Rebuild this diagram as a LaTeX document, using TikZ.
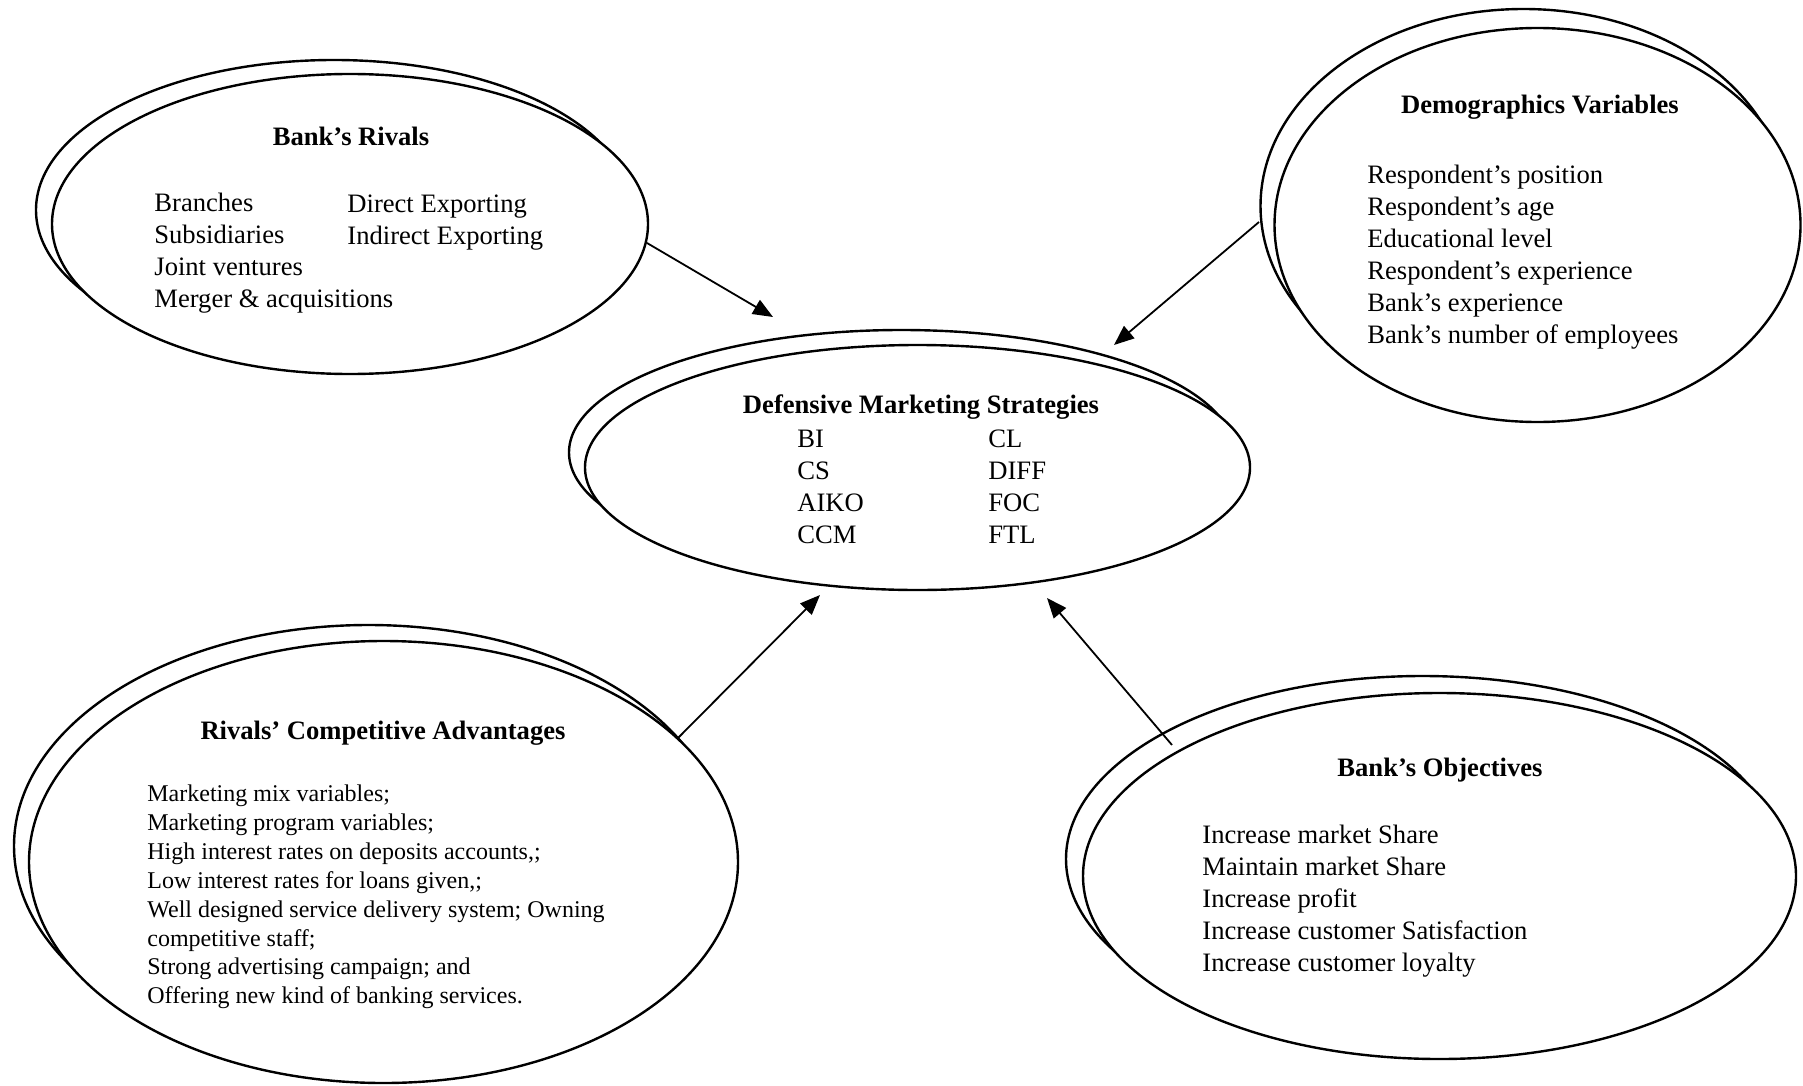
\documentclass[tikz,border=0pt]{standalone}
\usepackage{fontspec}
\setmainfont{Liberation Serif}
\usetikzlibrary{shapes.geometric,arrows.meta}
\begin{document}
\begin{tikzpicture}[x=0.5pt,y=-0.5pt,
  oval/.style={draw,ellipse,line width=1.2pt,fill=white,inner sep=0pt},
  ttl/.style={font=\fontsize{13.3}{16}\selectfont\bfseries,inner sep=0pt},
  items/.style={font=\fontsize{13.3}{16}\selectfont,align=left,anchor=west,inner sep=0pt},
  smallitems/.style={font=\fontsize{12}{14.45}\selectfont,align=left,anchor=west,inner sep=0pt},
  arr/.style={line width=0.9pt,-{Triangle[length=10pt,width=8pt]}}]
\useasboundingbox (0,0) rectangle (1803,1086);
\fill[white] (0,0) rectangle (1803,1086);

% Bank's Rivals
\node[oval,minimum width=298pt,minimum height=150pt] (rivback) at (334,210) {};
\node[oval,minimum width=298pt,minimum height=150pt] (riv) at (350,224) {};
\node[ttl] (rivt) at (351,136) {Bank’s Rivals};
\node[items] (rivl) at (154,253.5) {Branches\\Subsidiaries\\Joint ventures\\Merger \& acquisitions};
\node[items] (rivr) at (347,223) {Direct Exporting\\Indirect Exporting};

% Demographics Variables
\node[oval,minimum width=263pt,minimum height=197pt] (demback) at (1523.5,206) {};
\node[oval,minimum width=263pt,minimum height=197pt] (dem) at (1537.5,225) {};
\node[ttl] (demt) at (1540,107) {Demographics Variables};
\node[items] (demi) at (1367,257) {Respondent’s position\\Respondent’s age\\Educational level\\Respondent’s experience\\Bank’s experience\\Bank’s number of employees};

% Defensive Marketing Strategies
\node[oval,minimum width=332.5pt,minimum height=122.5pt] (dmsback) at (901.5,452.5) {};
\node[oval,minimum width=332.5pt,minimum height=122.5pt] (dms) at (917.5,467.5) {};
\node[ttl] (dmst) at (921,407) {Defensive Marketing Strategies};
\node[items] (dmsl) at (797,486.5) {BI\\CS\\AIKO\\CCM};
\node[items] (dmsr) at (988,486.5) {CL\\DIFF\\FOC\\FTL};

% Rivals' Competitive Advantages
\node[oval,minimum width=354.5pt,minimum height=221pt] (advback) at (368.5,846) {};
\node[oval,minimum width=354.5pt,minimum height=221pt] (adv) at (383.5,862) {};
\node[ttl] (advt) at (383,733) {Rivals’ Competitive Advantages};
\node[smallitems] (advi) at (147,897) {Marketing mix variables;\\Marketing program variables;\\High interest rates on deposits accounts,;\\Low interest rates for loans given,;\\Well designed service delivery system; Owning\\competitive staff;\\Strong advertising campaign; and\\Offering new kind of banking services.};

% Bank's Objectives
\node[oval,minimum width=356.5pt,minimum height=183pt] (objback) at (1422.5,859) {};
\node[oval,minimum width=356.5pt,minimum height=183pt] (obj) at (1439.5,876) {};
\node[ttl] (objt) at (1440,770) {Bank’s Objectives};
\node[items] (obji) at (1202,901.5) {Increase market Share\\Maintain market Share\\Increase profit\\Increase customer Satisfaction\\Increase customer loyalty};

% arrows
\coordinate (a1s) at (647,243); \coordinate (a1e) at (773,317);
\coordinate (a2s) at (1259,222); \coordinate (a2e) at (1114,345);
\coordinate (a3s) at (677,739); \coordinate (a3e) at (820,595);
\coordinate (a4s) at (1172,745); \coordinate (a4e) at (1047,598);
\draw[arr] (a1s) -- (a1e);
\draw[arr] (a2s) -- (a2e);
\draw[arr] (a3s) -- (a3e);
\draw[arr] (a4s) -- (a4e);
\end{tikzpicture}
\end{document}
